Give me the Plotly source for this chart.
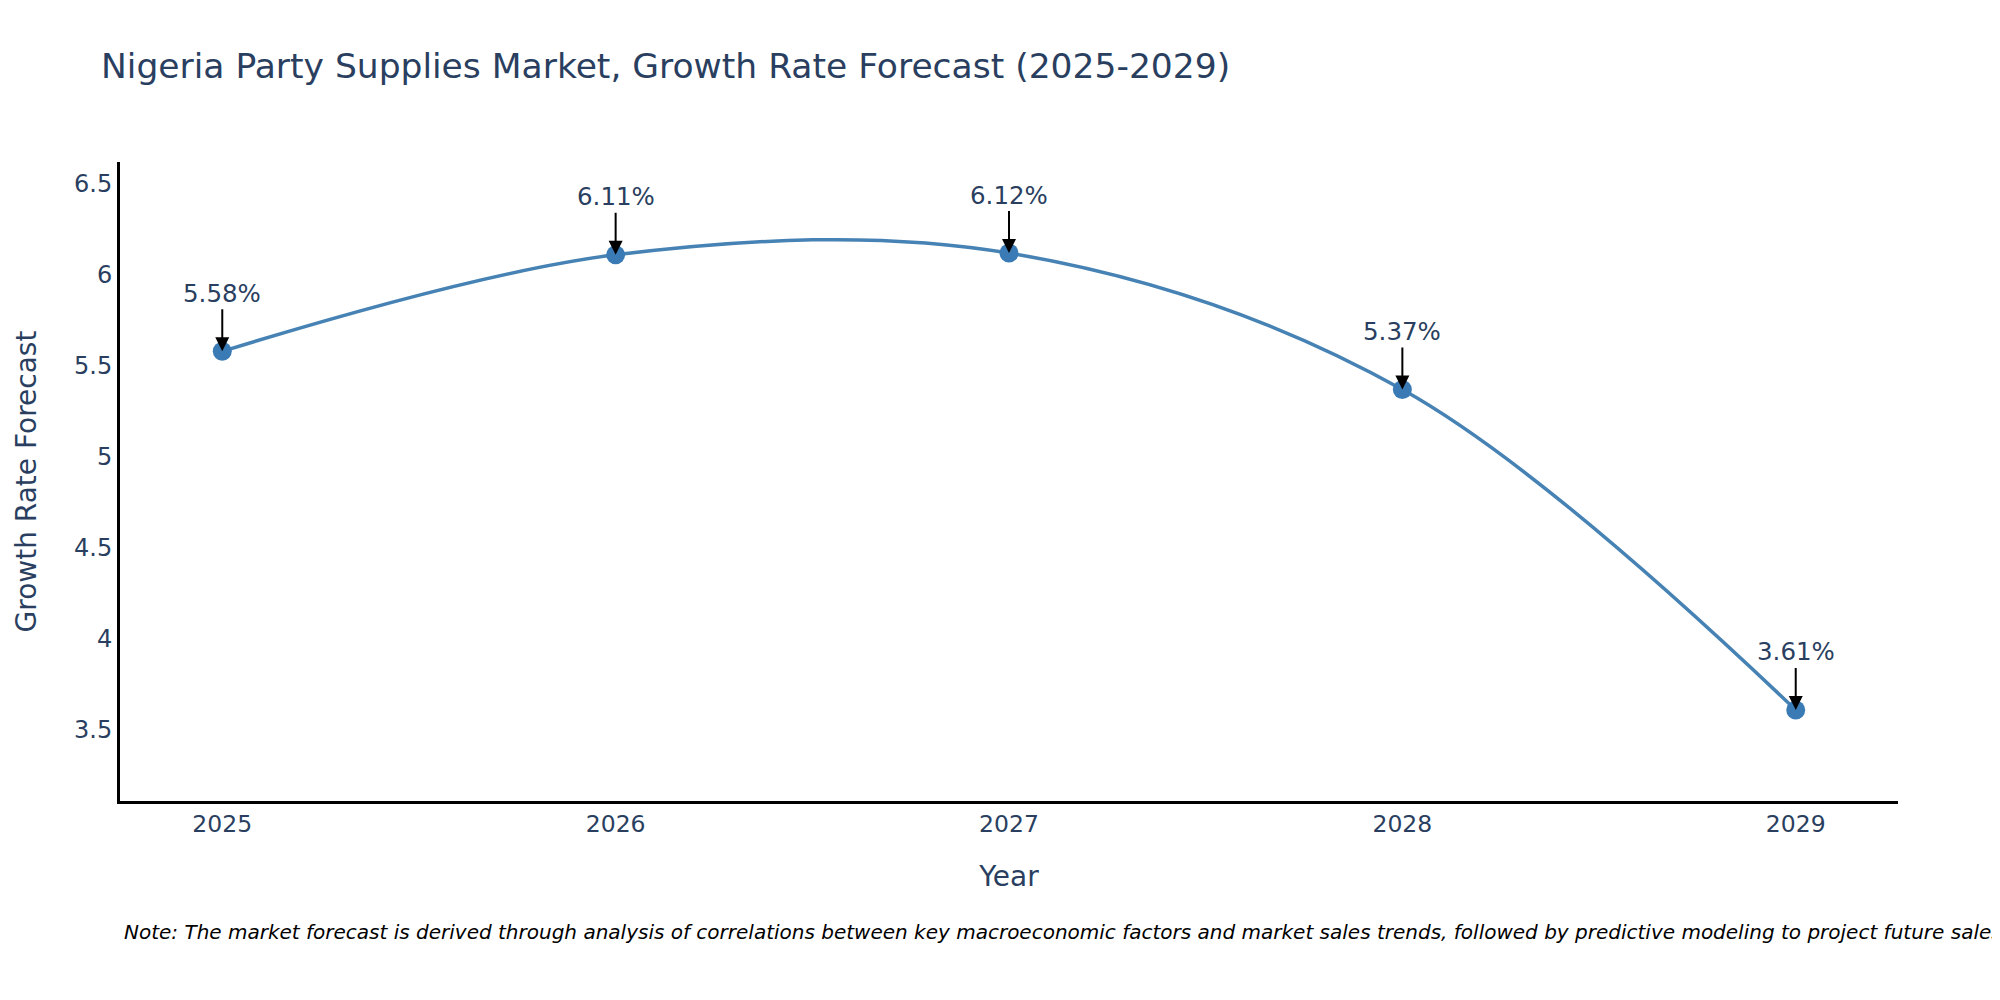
import plotly.graph_objects as go

years = [2025, 2026, 2027, 2028, 2029]
growth = [5.58, 6.11, 6.12, 5.37, 3.61]
labels = ["5.58%", "6.11%", "6.12%", "5.37%", "3.61%"]

title = "Nigeria Party Supplies Market, Growth Rate Forecast (2025-2029)"
note = ("Note: The market forecast is derived through analysis of correlations between key macroeconomic "
        "factors and market sales trends, followed by predictive modeling to project future sales.")

font_family = "DejaVu Sans"
text_color = "#2a3f5f"

fig = go.Figure()
fig.add_trace(go.Scatter(
    x=years, y=growth,
    mode="lines+markers",
    line=dict(color="#4682B4", width=3.5, shape="spline"),
    marker=dict(color="#3a7bb5", size=19),
    hoverinfo="x+y",
    showlegend=False,
))

for x, y, t in zip(years, growth, labels):
    fig.add_annotation(
        x=x, y=y, text=t,
        showarrow=True, arrowhead=2, arrowsize=1.4, arrowwidth=2, arrowcolor="black",
        ax=0, ay=-58,
        font=dict(size=24.5, color=text_color, family=font_family),
    )

fig.add_annotation(
    text="<i>" + note + "</i>",
    xref="paper", yref="paper", x=0.0013, y=-0.205,
    xanchor="left", yanchor="middle", showarrow=False, align="left",
    font=dict(size=20, color="black", family=font_family),
)

fig.update_layout(
    template="plotly_white",
    width=2000, height=1000,
    margin=dict(l=112, r=110, t=154, b=207),
    title=dict(text=title, x=0.0465, y=0.954, xanchor="left",
               font=dict(size=34.5, color=text_color, family=font_family)),
    font=dict(family=font_family, color=text_color),
    xaxis=dict(
        title=dict(text="Year", font=dict(size=28), standoff=30),
        range=[2024.74, 2029.26], tickvals=years, ticktext=[str(y) for y in years],
        tickfont=dict(size=23.5), showgrid=False, zeroline=False,
        showline=True, linecolor="black", linewidth=3,
    ),
    yaxis=dict(
        title=dict(text="Growth Rate Forecast", font=dict(size=28), standoff=30),
        range=[min(growth) - 0.5, max(growth) + 0.5], dtick=0.5,
        tickfont=dict(size=24), showgrid=False, zeroline=False,
        showline=True, linecolor="black", linewidth=3,
    ),
)

fig.write_html("out.html")
